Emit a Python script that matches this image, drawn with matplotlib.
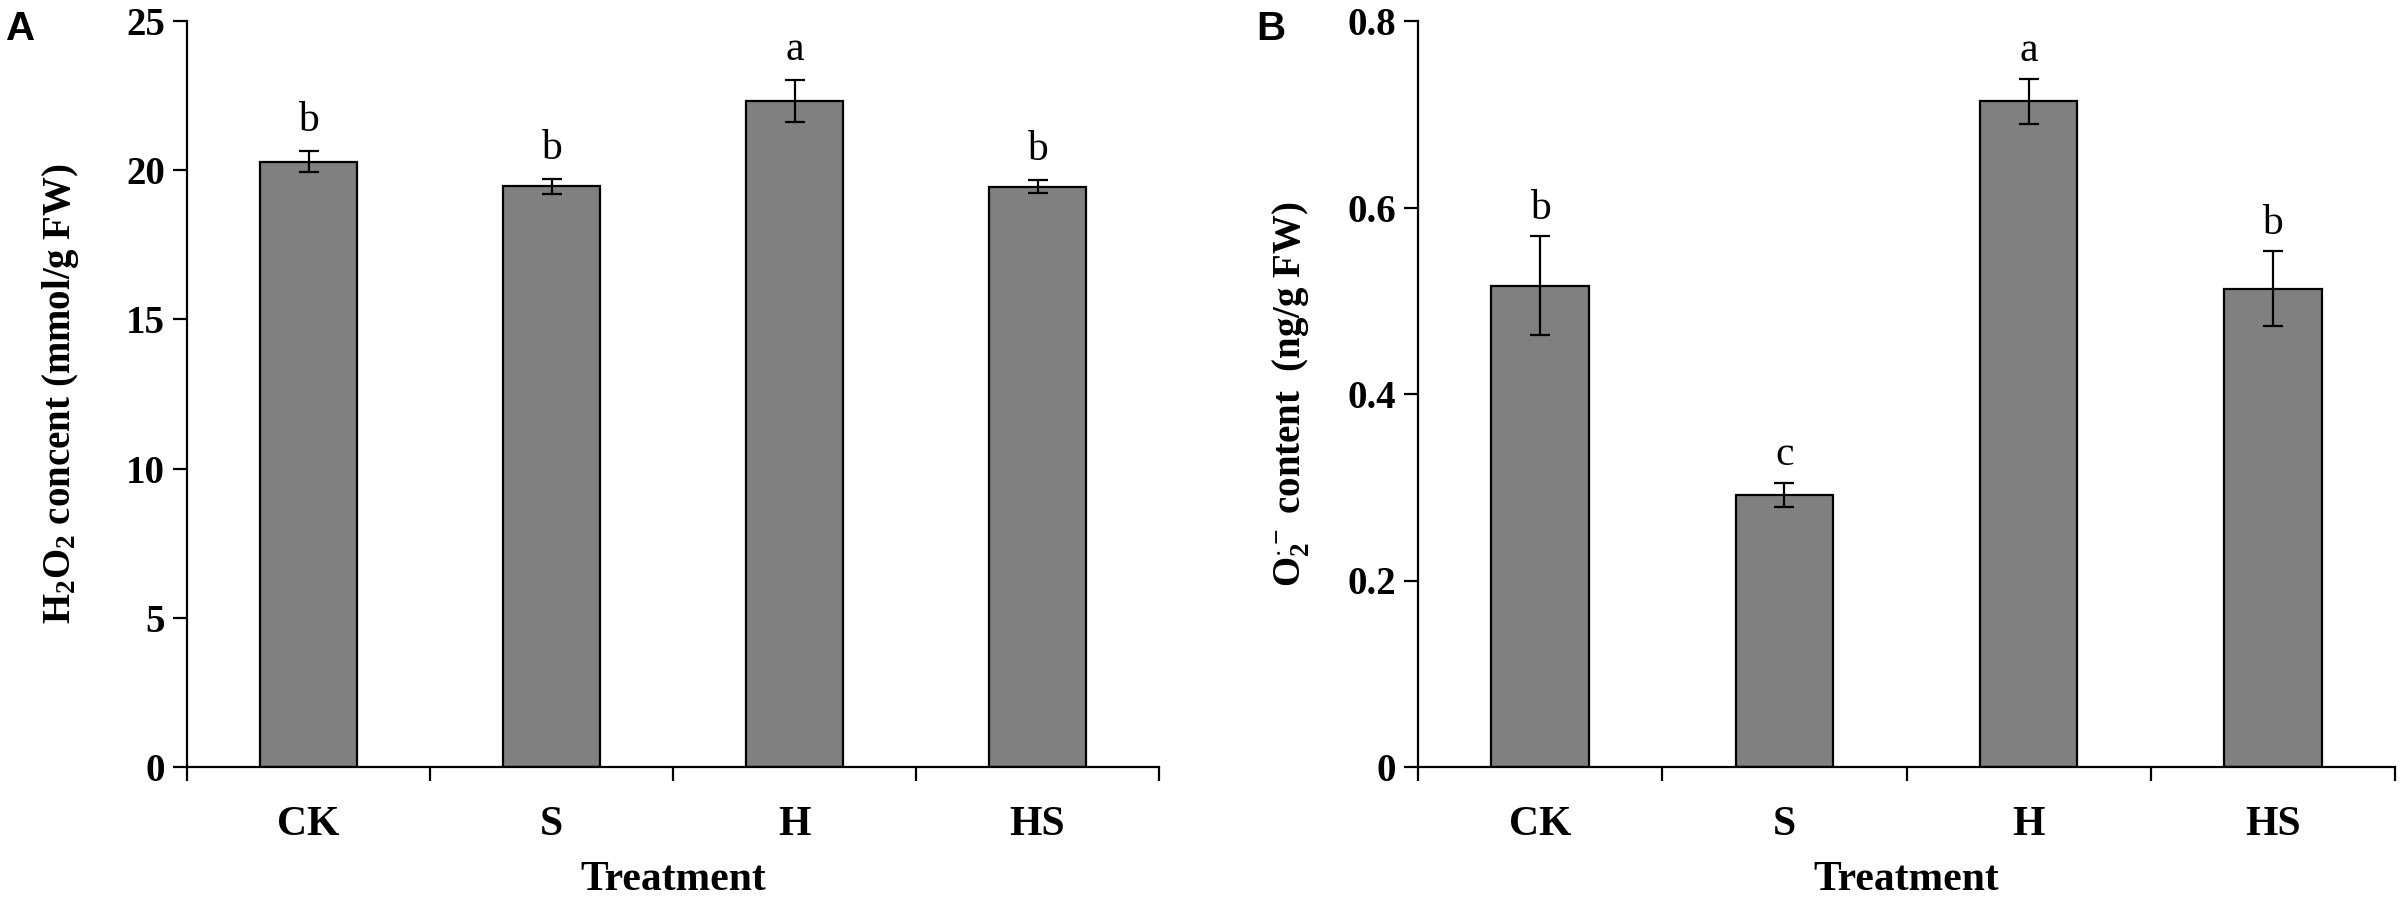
import numpy as np
import matplotlib
matplotlib.use("Agg")
import matplotlib.pyplot as plt

# data
treatments = ["CK", "S", "H", "HS"]
h2o2 = [20.29, 19.46, 22.31, 19.45]
h2o2_err = [0.35, 0.25, 0.71, 0.23]
h2o2_sig = ["b", "b", "a", "b"]
o2 = [0.516, 0.292, 0.714, 0.513]
o2_err = [0.053, 0.013, 0.024, 0.040]
o2_sig = ["b", "c", "a", "b"]

plt.rcParams["font.family"] = ["Liberation Serif", "DejaVu Serif"]
plt.rcParams["mathtext.fontset"] = "custom"
plt.rcParams["mathtext.rm"] = "Liberation Serif:bold"
plt.rcParams["mathtext.bf"] = "Liberation Serif:bold"
plt.rcParams["mathtext.it"] = "Liberation Serif:bold"
plt.rcParams["mathtext.default"] = "bf"

fig = plt.figure(figsize=(24, 9.01), dpi=100)
ax1 = fig.add_axes([187 / 2400, 1 - 767 / 901, 972 / 2400, 746 / 901])
ax2 = fig.add_axes([1418 / 2400, 1 - 767 / 901, 977 / 2400, 746 / 901])


def draw_panel(ax, vals, errs, sig, ylim, yticks, yticklabels, ylabel, offset):
    x = np.arange(len(treatments))
    ax.bar(x, vals, width=0.4, color="#808080", edgecolor="black", linewidth=1.6, zorder=2)
    ax.errorbar(x, vals, yerr=errs, fmt="none", ecolor="black", elinewidth=1.6,
                capsize=7.5, capthick=1.6, zorder=3)
    for xi, v, e, s in zip(x, vals, errs, sig):
        ax.annotate(s, (xi, v + e), xytext=(0, offset), textcoords="offset points",
                    ha="center", va="bottom", fontsize=30)
    ax.set_xlim(-0.5, len(treatments) - 0.5)
    ax.set_ylim(*ylim)
    ax.set_yticks(yticks)
    ax.set_yticklabels(yticklabels, fontsize=28, fontweight="bold")
    ax.set_xticks(x)
    ax.set_xticklabels(treatments, fontsize=30, fontweight="bold")
    ax.set_xticks(np.arange(-0.5, len(treatments)), minor=True)
    ax.tick_params(axis="x", which="major", length=0, pad=28)
    ax.tick_params(axis="x", which="minor", length=10, width=1.6, direction="out")
    ax.tick_params(axis="y", length=10, width=1.6, direction="out", pad=6)
    for side in ["top", "right"]:
        ax.spines[side].set_visible(False)
    for side in ["left", "bottom"]:
        ax.spines[side].set_linewidth(1.6)
    ax.set_xlabel("Treatment", fontsize=30, fontweight="bold", labelpad=12)
    ax.set_ylabel(ylabel, fontsize=28, fontweight="bold")
    ax.yaxis.set_label_coords(-0.109, 0.5)


draw_panel(ax1, h2o2, h2o2_err, h2o2_sig, (0, 25), [0, 5, 10, 15, 20, 25],
           ["0", "5", "10", "15", "20", "25"],
           "H$_2$O$_2$ concent (mmol/g FW)", 8)
draw_panel(ax2, o2, o2_err, o2_sig, (0, 0.8), [0, 0.2, 0.4, 0.6, 0.8],
           ["0", "0.2", "0.4", "0.6", "0.8"],
           r"O$_2^{\cdot -}$ content  (ng/g FW)", 6)

fig.text(6 / 2400, 1 - 10 / 901, "A", fontsize=29, fontweight="bold",
         family="Liberation Sans", va="top", ha="left")
fig.text(1256 / 2400, 1 - 10 / 901, "B", fontsize=29, fontweight="bold",
         family="Liberation Sans", va="top", ha="left")

fig.savefig("out.png", dpi=100)
